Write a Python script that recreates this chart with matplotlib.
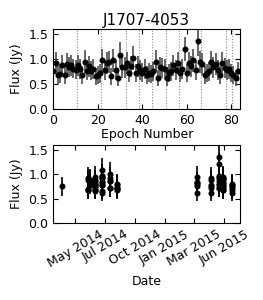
import numpy as np
import matplotlib
matplotlib.use("Agg")
import matplotlib.pyplot as plt
import matplotlib.dates as mdates
import pandas as pd

title = "J1707-4053"

# flux per epoch (Jy)
flux = [0.75, 0.92, 0.68, 0.70, 0.87, 0.67, 0.89, 0.83, 0.87, 0.80,
        0.78, 0.87, 0.80, 0.68, 0.94, 0.76, 0.85, 0.76, 0.80, 0.65,
        0.68, 0.71, 0.97, 0.78, 0.92, 0.93, 0.65, 0.97, 0.78, 0.61,
        1.08, 0.83, 0.83, 0.92, 0.71, 0.85, 1.01, 0.71, 0.85, 0.78,
        0.72, 0.80, 0.68, 0.72, 0.70, 0.75, 0.94, 0.61, 0.83, 0.82,
        0.80, 0.61, 0.71, 0.75, 0.87, 0.78, 0.92, 0.71, 0.80, 1.20,
        0.71, 0.92, 0.85, 0.97, 0.78, 1.36, 0.94, 0.90, 0.68, 0.71,
        0.75, 0.94, 0.83, 0.90, 0.78, 0.68, 0.92, 0.82, 0.78, 0.80,
        0.71, 0.68, 0.61, 0.75]
flux_err = [0.20, 0.22, 0.18, 0.19, 0.21, 0.18, 0.22, 0.20, 0.21, 0.19,
            0.19, 0.21, 0.20, 0.18, 0.23, 0.19, 0.21, 0.19, 0.20, 0.17,
            0.18, 0.19, 0.23, 0.20, 0.22, 0.22, 0.17, 0.23, 0.20, 0.16,
            0.25, 0.21, 0.21, 0.22, 0.18, 0.21, 0.24, 0.18, 0.21, 0.20,
            0.19, 0.20, 0.18, 0.19, 0.18, 0.19, 0.23, 0.16, 0.21, 0.20,
            0.20, 0.16, 0.18, 0.19, 0.21, 0.20, 0.22, 0.18, 0.20, 0.24,
            0.18, 0.22, 0.21, 0.23, 0.20, 0.30, 0.22, 0.22, 0.18, 0.18,
            0.19, 0.22, 0.21, 0.22, 0.20, 0.18, 0.22, 0.20, 0.20, 0.20,
            0.18, 0.18, 0.16, 0.19]

# observing dates and how many epochs fall on each
obs_dates = ["2014-04-01", "2014-06-10", "2014-06-16", "2014-06-30",
             "2014-07-18", "2014-08-08", "2014-08-28", "2015-03-31",
             "2015-05-06", "2015-05-27", "2015-06-08", "2015-07-03"]
epochs_per_date = [1, 5, 5, 11, 11, 6, 6, 6, 6, 10, 11, 6]

# session boundaries (epoch number)
boundaries = [10.5, 21.5, 32.5, 38.5, 44.5, 50.5, 56.5, 66.5, 77.5, 80.5]

date_ticks = pd.date_range("2014-05-07", periods=6, freq="80D")

epoch = np.arange(len(flux))
dates = pd.to_datetime(np.repeat(obs_dates, epochs_per_date))

plt.rcParams["font.size"] = 9
plt.rcParams["xtick.direction"] = "in"
plt.rcParams["ytick.direction"] = "in"
plt.rcParams["xtick.top"] = True
plt.rcParams["ytick.right"] = True
plt.rcParams["xtick.major.size"] = 3.5
plt.rcParams["ytick.major.size"] = 3.5

fig = plt.figure(figsize=(2.63, 3.0), dpi=100)
ax1 = fig.add_axes([0.203, 0.637, 0.71, 0.267])
ax2 = fig.add_axes([0.203, 0.257, 0.71, 0.26])

for b in boundaries:
    ax1.axvline(b, color="0.55", linestyle=(0, (1, 1.5)), linewidth=0.8)
ax1.errorbar(epoch, flux, yerr=flux_err, fmt="o", color="k", ecolor="0.3",
             markersize=3.3, elinewidth=1.2, capsize=0)
ax1.set_xlim(0, 84)
ax1.set_ylim(0, 1.6)
ax1.set_xticks([0, 20, 40, 60, 80])
ax1.set_yticks([0.0, 0.5, 1.0, 1.5])
ax1.set_xlabel("Epoch Number", labelpad=1)
ax1.set_ylabel("Flux (Jy)")
ax1.set_title(title, fontsize=11, pad=3)

ax2.errorbar(dates, flux, yerr=flux_err, fmt="o", color="k", ecolor="k",
             markersize=3.3, elinewidth=1.2, capsize=0)
ax2.set_xlim(pd.Timestamp("2014-03-09"), pd.Timestamp("2015-07-24"))
ax2.set_ylim(0, 1.6)
ax2.set_xticks(date_ticks)
ax2.xaxis.set_major_formatter(mdates.DateFormatter("%b %Y"))
ax2.set_yticks([0.0, 0.5, 1.0, 1.5])
for lab in ax2.get_xticklabels():
    lab.set_rotation(30)
ax2.set_xlabel("Date")
ax2.set_ylabel("Flux (Jy)")

fig.savefig("out.png", dpi=100)
